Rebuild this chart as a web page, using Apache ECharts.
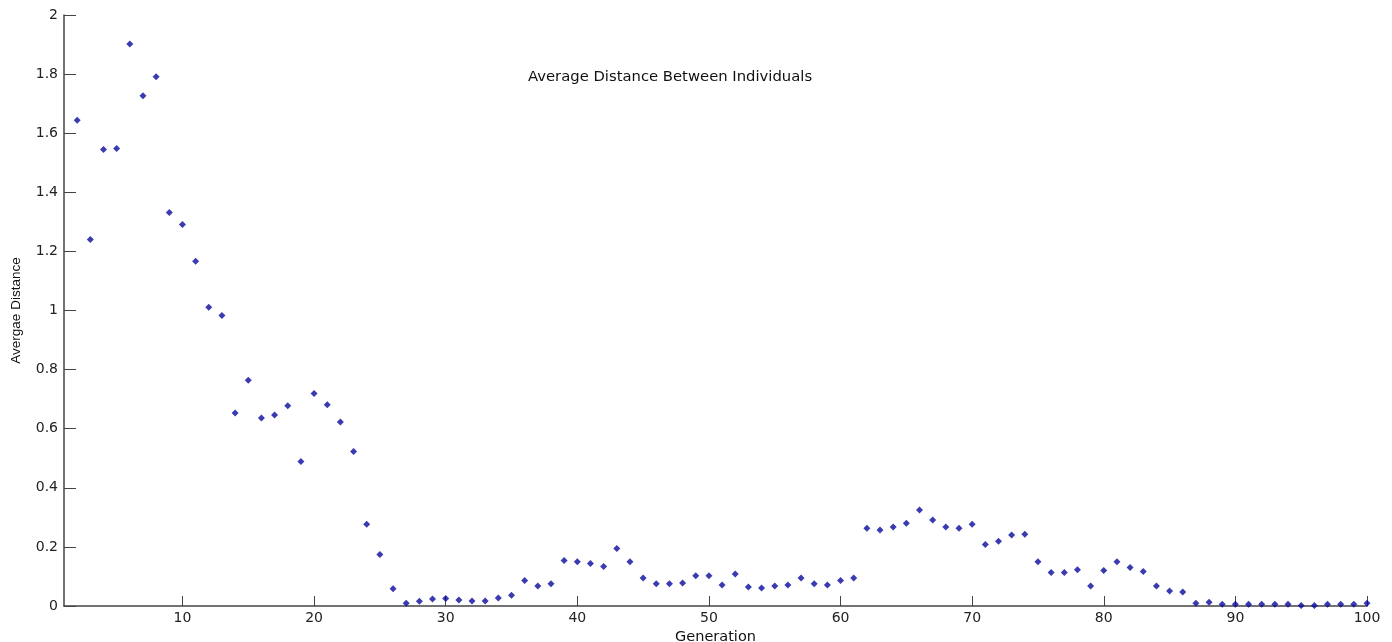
<!DOCTYPE html>
<html>
<head>
<meta charset="utf-8">
<script src="https://cdn.jsdelivr.net/npm/echarts@6/dist/echarts.min.js"></script>
<style>html,body{margin:0;padding:0;background:#fff;}#c{width:1392px;height:642px;}</style>
</head>
<body>
<div id="c"></div>
<script>
const generations = [];
for (let g = 2; g <= 100; g++) generations.push(g);
const avgDistance = [
  1.644, 1.240, 1.545, 1.548, 1.902, 1.727, 1.791, 1.332, 1.291, 1.167,
  1.011, 0.983, 0.653, 0.764, 0.636, 0.646, 0.678, 0.489, 0.719, 0.681,
  0.623, 0.523, 0.277, 0.174, 0.058, 0.009, 0.016, 0.024, 0.025, 0.020,
  0.017, 0.017, 0.027, 0.036, 0.086, 0.068, 0.075, 0.154, 0.150, 0.144,
  0.134, 0.195, 0.150, 0.095, 0.075, 0.075, 0.078, 0.102, 0.102, 0.071,
  0.108, 0.064, 0.061, 0.068, 0.071, 0.095, 0.075, 0.071, 0.086, 0.095,
  0.263, 0.257, 0.267, 0.280, 0.325, 0.291, 0.267, 0.263, 0.277, 0.208,
  0.219, 0.240, 0.243, 0.150, 0.113, 0.113, 0.123, 0.068, 0.120, 0.150,
  0.130, 0.117, 0.068, 0.051, 0.047, 0.009, 0.013, 0.006, 0.006, 0.006,
  0.006, 0.006, 0.006, 0.002, 0.002, 0.006, 0.006, 0.006, 0.009
];
const xTicks = [10, 20, 30, 40, 50, 60, 70, 80, 90, 100];
const titleText = 'Average Distance Between Individuals';
const xName = 'Generation';
const yName = 'Avergae Distance';

const chart = echarts.init(document.getElementById('c'));
const font = 'DejaVu Sans, Verdana, sans-serif';
const narrow = 'Liberation Sans, Arial, sans-serif';
chart.setOption({
  animation: false,
  backgroundColor: '#fff',
  grid: { left: 64, right: 25, top: 15, bottom: 36, containLabel: false, outerBoundsMode: 'none' },
  graphic: [{
    type: 'text', left: 528, top: 70,
    style: { text: titleText, font: '14.8px ' + font, fill: '#111' }
  }],
  xAxis: {
    type: 'value', min: 1, max: 100,
    name: xName, nameLocation: 'middle', nameGap: 21,
    nameTextStyle: { fontFamily: font, fontSize: 14.5, color: '#111' },
    axisLine: { show: true, onZero: false, lineStyle: { color: '#444', width: 1.5 } },
    axisTick: { show: true, inside: true, length: 10, lineStyle: { color: '#444' },
      customValues: xTicks },
    axisLabel: { fontFamily: font, fontSize: 14, color: '#222', margin: 5,
      customValues: xTicks },
    splitLine: { show: false }
  },
  yAxis: {
    type: 'value', min: 0, max: 2, interval: 0.2,
    name: yName, nameLocation: 'middle', nameGap: 41, nameRotate: 90,
    nameTextStyle: { fontFamily: narrow, fontSize: 13.5, color: '#111' },
    axisLine: { show: true, lineStyle: { color: '#444', width: 1.5 } },
    axisTick: { show: true, inside: true, length: 12, lineStyle: { color: '#444' } },
    axisLabel: { fontFamily: font, fontSize: 14, color: '#222', margin: 6,
      formatter: v => String(Math.round(v * 10) / 10) },
    splitLine: { show: false }
  },
  series: [{
    type: 'scatter',
    symbol: 'diamond', symbolSize: 7,
    itemStyle: { color: '#0a0a9e' },
    data: generations.map((g, i) => [g, avgDistance[i]])
  }]
});
</script>
</body>
</html>
